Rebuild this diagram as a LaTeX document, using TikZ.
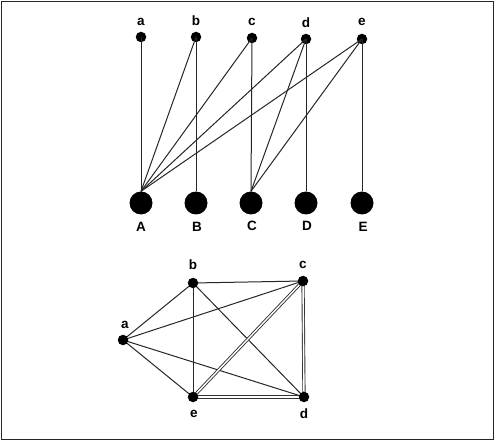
\documentclass[tikz,border=0pt]{standalone}
\usepackage{fontspec}
\setmainfont{Liberation Sans}
\begin{document}
\begin{tikzpicture}[x=1pt,y=-1pt,
  sdot/.style={circle,fill=black,inner sep=0pt,minimum size=10.5pt},
  bdot/.style={circle,fill=black,inner sep=0pt,minimum size=23pt},
  lab/.style={font=\fontsize{13.5}{13.5}\selectfont\bfseries,inner sep=0pt},
  edge/.style={line width=1pt,draw=black!85},
  dedge/.style={line width=0.9pt,draw=black!80,double=white,double distance=1.4pt}]
\useasboundingbox (0,0) rectangle (496,441);
\draw[line width=1.8pt,draw=black!85] (1.5,1.5) rectangle (493.5,439.5);
% top bipartite graph
\node[sdot] (ta) at (141,37) {};
\node[sdot] (tb) at (196,37) {};
\node[sdot] (tc) at (252,38) {};
\node[sdot] (td) at (306,39) {};
\node[sdot] (te) at (362,39) {};
\node[lab] (lta) at (141,22) {a};
\node[lab] (ltb) at (196,21) {b};
\node[lab] (ltc) at (252,22) {c};
\node[lab] (ltd) at (306,23) {d};
\node[lab] (lte) at (362,22) {e};
\node[bdot] (A) at (141,203) {};
\node[bdot] (B) at (196,203) {};
\node[bdot] (C) at (251,203) {};
\node[bdot] (D) at (306,203) {};
\node[bdot] (E) at (362,203) {};
\node[lab] (lA) at (141,227) {A};
\node[lab] (lB) at (197,227) {B};
\node[lab] (lC) at (252,226) {C};
\node[lab] (lD) at (307,226) {D};
\node[lab] (lE) at (363,227) {E};
\draw[edge] (ta.center) -- (A.north);
\draw[edge] (tb.center) -- (A.north);
\draw[edge] (tb.center) -- (B.north);
\draw[edge] (tc.center) -- (A.north);
\draw[edge] (tc.center) -- (C.north);
\draw[edge] (td.center) -- (A.north);
\draw[edge] (td.center) -- (C.north);
\draw[edge] (td.center) -- (D.north);
\draw[edge] (te.center) -- (A.north);
\draw[edge] (te.center) -- (C.north);
\draw[edge] (te.center) -- (E.north);
% bottom graph
\coordinate (pa) at (123,340);
\coordinate (pb) at (193,283);
\coordinate (pc) at (303,281);
\coordinate (pe) at (193,397);
\coordinate (pd) at (304,397);
\draw[edge] (pa) -- (pb);
\draw[edge] (pa) -- (pc);
\draw[edge] (pa) -- (pe);
\draw[edge] (pa) -- (pd);
\draw[edge] (pb) -- (pc);
\draw[edge] (pb) -- (pe);
\draw[edge] (pb) -- (pd);
\draw[dedge] (pc) -- (pe);
\draw[dedge] (pc) -- (pd);
\draw[dedge] (pe) -- (pd);
\node[sdot] (ba) at (pa) {};
\node[sdot] (bb) at (pb) {};
\node[sdot] (bc) at (pc) {};
\node[sdot] (be) at (pe) {};
\node[sdot] (bd) at (pd) {};
\node[lab] (lba) at (125,325) {a};
\node[lab] (lbb) at (193,265) {b};
\node[lab] (lbc) at (303,265) {c};
\node[lab] (lbe) at (194,414) {e};
\node[lab] (lbd) at (304,414) {d};
\end{tikzpicture}
\end{document}
